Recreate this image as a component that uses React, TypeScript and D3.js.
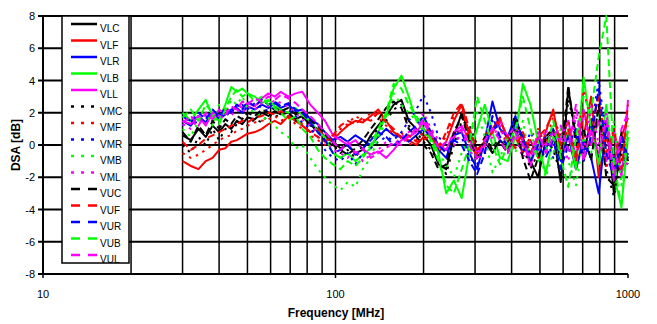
import React from "react";
import * as d3 from "d3";

const freqs = [30,32,34,36,38,40,42,44,46,48,50,53,56,59,62,65,69,73,77,82,87,92,98,104,110,117,124,132,140,149,158,168,178,189,200,212,225,239,254,270,287,305,324,344,365,388,412,437,464,493,523,555,589,625,664,705,748,794,843,895,950,1000];

const VLC = [0.6,0.3,1.0,0.5,1.2,0.8,1.3,1.0,1.5,1.3,1.7,1.6,2.0,1.8,2.1,1.9,2.0,1.6,1.8,1.2,1.0,0.5,0.2,-0.2,0.0,-0.5,-0.3,0.6,1.2,1.8,2.5,2.8,1.5,1.0,0.6,0.0,-1.2,-1.5,0.5,2.0,0.8,-0.3,0.2,-0.5,0.3,-0.2,1.5,0.5,-1.0,-2.0,0.3,0.8,-2.3,3.5,0.5,-0.5,1.5,-1.0,1.5,-3.0,0.0,-0.8];
const VLF = [-1.0,-1.3,-1.5,-1.0,-0.8,-0.3,-0.2,0.2,0.3,0.5,0.7,0.8,1.0,1.3,1.5,1.3,1.8,1.5,1.2,0.8,1.0,0.5,0.3,0.8,1.2,1.5,1.4,1.8,2.2,1.5,0.8,0.5,0.3,0.0,0.5,0.8,-0.5,0.2,1.5,2.5,0.5,-0.8,0.0,1.0,1.7,0.2,0.5,-0.5,0.3,-0.8,0.8,2.2,-0.5,0.8,-1.5,0.5,3.0,-2.0,0.5,-1.0,0.5,1.7];
const VLR = [1.5,1.2,1.8,1.4,2.0,1.6,1.9,2.2,2.3,2.0,2.4,2.2,2.5,2.3,2.6,2.3,2.5,2.1,2.2,1.6,1.3,0.8,0.3,0.5,0.2,0.6,0.3,0.0,0.5,1.0,0.6,0.5,0.2,0.6,1.0,0.5,-0.3,-0.8,0.6,0.8,-0.5,-1.5,0.3,2.7,1.0,0.5,1.8,0.2,-0.5,0.4,-0.3,1.0,-1.0,0.6,-1.5,0.3,-0.8,-3.0,1.2,-0.8,-1.5,-0.5];
const VLB = [2.0,1.5,2.2,2.8,1.8,1.5,2.5,3.6,3.3,3.5,3.2,3.0,2.6,2.8,2.4,2.2,2.0,2.3,1.8,1.5,0.8,0.5,-0.5,-0.8,-0.5,-1.0,-0.6,-0.2,0.8,1.8,3.5,4.3,3.0,1.5,1.7,0.5,-0.5,-3.0,-2.2,-3.3,-0.5,1.0,2.5,0.8,-0.8,-1.0,0.5,3.8,2.5,0.2,-1.8,0.5,-0.5,1.0,-1.5,4.2,1.0,-1.2,2.5,-2.0,-3.8,0.5];
const VLL = [1.5,1.3,1.8,1.2,2.0,1.8,2.2,2.0,2.5,2.3,2.6,2.4,2.9,3.2,3.0,3.3,3.0,3.2,3.3,2.5,2.0,1.5,0.6,0.3,0.0,0.3,-0.3,-0.6,-0.4,-0.8,-0.3,0.3,0.5,0.8,1.4,0.6,0.0,-0.3,0.8,1.2,0.3,-0.5,0.0,0.8,1.5,0.5,1.2,0.3,-1.3,0.5,0.0,0.8,0.3,1.5,-0.8,2.2,0.0,1.5,-1.0,0.8,-2.0,2.8];
const VMC = [0.0,-0.5,0.5,0.0,1.0,0.3,1.0,0.8,1.3,1.5,1.2,1.6,1.4,1.9,1.7,2.0,1.8,1.5,1.7,1.3,0.8,0.3,0.0,-0.5,-0.3,-0.8,0.0,0.5,1.0,1.5,2.2,2.5,1.2,0.8,0.2,-0.3,-1.0,-1.8,0.0,1.5,1.2,0.0,-0.5,-0.2,0.5,0.0,2.0,0.0,-1.5,-0.5,0.5,-0.3,-1.8,2.8,1.0,-1.0,0.5,2.0,-1.5,-3.2,-0.5,-1.2];
const VMF = [-0.5,-0.8,-0.6,-0.3,0.0,0.3,0.5,0.6,0.9,1.0,1.2,1.4,1.5,1.6,1.8,1.5,1.7,1.3,1.0,0.6,0.3,0.0,0.5,1.0,1.3,1.8,1.5,2.0,1.7,1.2,0.6,0.8,0.0,0.3,0.8,1.0,0.0,0.5,1.8,2.2,0.0,-0.5,0.5,1.3,1.0,0.0,0.8,-0.3,0.5,1.0,0.0,1.8,0.5,1.5,-0.5,3.4,1.5,2.9,-1.5,0.8,-0.5,1.0];
const VMR = [1.2,1.6,1.3,1.8,1.5,2.0,1.7,2.2,2.0,2.5,2.2,2.6,2.3,2.1,2.4,2.0,2.2,1.8,1.4,1.0,0.5,-0.3,-0.8,-1.0,-0.5,-1.2,-0.5,-0.2,0.2,0.5,0.3,0.8,1.5,2.2,3.1,2.0,0.5,0.0,0.3,0.5,-0.8,-1.2,0.0,1.5,0.3,-0.5,1.0,-0.5,0.8,-0.3,0.5,-0.8,0.8,-0.5,0.5,-0.5,1.0,4.0,0.5,-1.5,-1.0,0.3];
const VMB = [1.0,0.5,1.5,2.0,1.2,2.5,2.0,2.8,2.5,3.0,2.3,2.0,1.8,1.5,1.2,0.8,0.5,-0.2,0.0,-0.8,-1.5,-2.0,-2.5,-2.8,-2.3,-2.6,-1.5,-0.8,0.5,1.5,3.2,2.5,2.0,1.5,0.8,0.2,-0.5,-1.2,-2.0,-0.5,0.5,2.0,0.5,-1.7,-0.8,0.5,-0.5,1.5,-1.0,0.0,-2.0,-0.5,1.0,-1.0,-2.5,0.5,-0.5,2.0,-0.5,1.5,-2.5,1.0];
const VML = [1.3,1.0,1.6,1.3,1.8,1.5,2.0,1.8,2.2,2.0,2.4,2.2,2.6,2.4,2.8,2.6,2.4,2.0,1.6,1.2,0.8,0.3,-0.3,-0.5,-0.8,-0.3,-1.0,-0.6,-0.3,0.2,0.0,0.5,0.8,1.2,2.0,1.0,0.3,-0.5,0.0,0.8,-0.3,-1.0,-0.3,0.5,1.2,-0.3,0.6,-0.8,0.3,-0.5,1.0,-0.2,0.5,-1.0,1.8,-0.5,2.5,0.0,2.0,-1.5,0.3,-1.5];
const VUC = [0.8,0.2,1.2,0.6,1.5,1.0,1.6,1.3,1.8,1.6,2.0,1.8,2.2,2.0,2.3,2.1,2.3,1.9,2.0,1.5,1.2,0.7,0.0,-0.3,-0.6,-0.2,0.3,1.0,1.6,2.3,2.7,2.3,1.0,0.5,0.0,-0.5,-1.5,-1.2,0.8,1.8,0.3,-0.8,0.5,-0.3,0.2,-0.5,1.2,-0.8,-2.2,-0.8,0.5,1.0,-1.0,3.7,0.0,1.0,-1.0,2.5,-2.0,-2.5,0.8,-1.0];
const VUF = [0.2,-0.3,0.0,0.4,0.6,0.8,1.0,1.2,1.3,1.5,1.4,1.7,1.8,2.0,1.9,2.1,1.8,1.5,1.3,0.8,0.5,0.2,0.6,1.2,1.5,1.3,1.7,1.5,2.0,1.4,1.0,0.4,0.6,0.2,0.3,0.6,-0.2,0.8,2.0,2.6,1.0,-0.3,0.2,0.8,1.5,0.5,-0.2,0.8,-0.5,0.5,1.0,2.0,0.0,1.0,-1.0,2.0,0.5,3.2,-0.5,1.0,-1.5,2.5];
const VUR = [1.8,1.4,2.0,1.6,2.2,1.8,2.3,2.0,2.5,2.2,2.7,2.4,2.8,2.5,2.7,2.4,2.6,2.2,2.0,1.4,0.8,0.3,-0.5,-0.3,0.0,-0.6,-0.2,0.3,0.8,0.5,0.0,0.3,0.8,1.2,1.8,0.8,0.0,-0.5,0.3,0.0,-1.0,-1.8,-0.5,1.8,0.5,0.0,1.2,0.5,-1.0,0.0,-0.8,0.3,-1.5,0.0,1.0,-1.0,0.5,3.5,-0.5,-2.0,0.5,-0.8];
const VUB = [1.7,2.2,1.5,2.5,2.0,1.3,2.2,3.0,3.4,3.0,3.2,2.7,3.0,2.5,2.3,2.0,1.5,1.8,1.0,0.5,-0.3,-0.8,-1.2,-1.5,-1.0,-1.3,-0.8,0.0,1.0,2.0,3.8,3.5,2.5,1.8,1.0,0.3,-1.0,-2.5,-3.0,-1.5,0.0,3.0,1.5,0.0,-1.2,0.0,1.0,3.0,1.0,-1.0,-0.5,1.5,-0.8,-2.6,0.5,3.0,2.0,5.5,8.0,-1.0,-3.9,1.2];
const VUL = [1.4,1.8,1.2,2.0,1.6,2.2,1.9,2.4,2.2,2.7,2.5,2.9,2.7,3.0,2.8,3.1,2.9,2.6,2.2,1.8,1.3,0.8,0.2,-0.3,0.2,-0.5,-0.2,-0.8,-0.5,-0.2,0.2,0.0,0.6,1.0,1.6,0.8,-0.2,0.2,0.5,1.0,0.0,-0.8,0.3,1.0,0.3,-0.5,0.8,0.0,-0.8,0.8,-0.5,0.5,1.2,-0.3,2.5,-1.0,1.0,-0.5,1.5,-2.2,1.0,2.0];

const seriesNames = ["VLC","VLF","VLR","VLB","VLL","VMC","VMF","VMR","VMB","VML","VUC","VUF","VUR","VUB","VUL"];
const seriesValues = [VLC,VLF,VLR,VLB,VLL,VMC,VMF,VMR,VMB,VML,VUC,VUF,VUR,VUB,VUL];
const colors = ["#000000","#FF0000","#0000FF","#00FF00","#FF00FF"];
const styles = ["solid","dotted","dashed"];

const yTicks = [-8,-6,-4,-2,0,2,4,6,8];
const xLabels = [10,100,1000];
const xGrid = [20,30,40,50,60,70,80,90,100,200,300,400,500,600,700,800,900];

const W = 657, H = 324;
const left = 43, right = 628, top = 16, bottom = 274;

export default function App() {
  const x = d3.scaleLog().domain([10, 1000]).range([left, right]);
  const y = d3.scaleLinear().domain([-8, 8]).range([bottom, top]);
  const line = d3.line<number>().x((_, i) => x(freqs[i])).y((v) => y(v));
  const font = "'Liberation Sans', Arial, sans-serif";
  const plotDash = (s: string) => (s === "dotted" ? "2.5,5" : s === "dashed" ? "7,4" : undefined);
  const legDash = (s: string) => (s === "dotted" ? "3,7" : s === "dashed" ? "9,8" : undefined);

  return (
    <svg width={W} height={H} style={{ position: "absolute", left: 0, top: 0, background: "#fff" }} fontFamily={font}>
      <rect x={0} y={0} width={W} height={H} fill="#fff" />
      {yTicks.map((t) => (
        <line key={"h" + t} x1={left} x2={right} y1={y(t)} y2={y(t)} stroke="#000" strokeWidth={2} />
      ))}
      {xGrid.map((f) => (
        <line key={"v" + f} x1={x(f)} x2={x(f)} y1={top} y2={bottom} stroke="#000" strokeWidth={1.5} />
      ))}
      <line x1={left} x2={left} y1={top} y2={bottom} stroke="#000" strokeWidth={2} />
      {yTicks.map((t) => (
        <g key={"yt" + t}>
          <line x1={left - 5} x2={left} y1={y(t)} y2={y(t)} stroke="#000" strokeWidth={2} />
          <text x={35} y={y(t) + 4} textAnchor="end" fontSize={11}>{t}</text>
        </g>
      ))}
      {xLabels.map((f) => (
        <g key={"xt" + f}>
          <line x1={x(f)} x2={x(f)} y1={bottom} y2={bottom + 4} stroke="#000" strokeWidth={1.5} />
          <text x={x(f)} y={298} textAnchor="middle" fontSize={11}>{f}</text>
        </g>
      ))}
      <g>
        {seriesValues.map((vals, i) => (
          <path
            key={seriesNames[i]}
            d={line(vals) || ""}
            fill="none"
            stroke={colors[i % 5]}
            strokeWidth={2}
            strokeDasharray={plotDash(styles[Math.floor(i / 5)])}
            strokeLinejoin="round"
          />
        ))}
      </g>
      <rect x={62} y={16} width={67} height={247} fill="#fff" stroke="#000" strokeWidth={1.5} />
      {seriesNames.map((n, i) => {
        const ly = 24 + i * 16.5;
        return (
          <g key={"lg" + n}>
            <line x1={71} x2={97} y1={ly} y2={ly} stroke={colors[i % 5]} strokeWidth={2.5}
              strokeDasharray={legDash(styles[Math.floor(i / 5)])} />
            <text x={100} y={ly + 8} fontSize={10}>{n}</text>
          </g>
        );
      })}
      <text x={336} y={317} textAnchor="middle" fontSize={12} fontWeight="bold">Frequency [MHz]</text>
      <text transform={`translate(20,${y(0)}) rotate(-90)`} textAnchor="middle" fontSize={12} fontWeight="bold">DSA [dB]</text>
    </svg>
  );
}
